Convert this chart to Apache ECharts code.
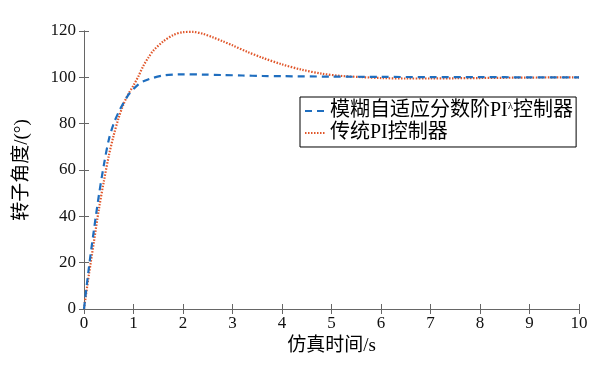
<!DOCTYPE html>
<html><head><meta charset="utf-8">
<script src="https://cdn.jsdelivr.net/npm/echarts@6/dist/echarts.min.js"></script>
<style>html,body{margin:0;padding:0;background:#fff}#c{width:604px;height:367px}</style>
</head><body><div id="c"></div>
<script>
const seriesNames = ['模糊自适应分数阶PIλ控制器', '传统PI控制器'];
const fuzzyTime = [0, 0.1, 0.2, 0.3, 0.4, 0.5, 0.6, 0.7, 0.8, 0.9, 1.0, 1.1, 1.2, 1.4, 1.6, 1.8, 2.0, 2.4, 2.8, 3.2, 3.6, 4.0, 5, 6, 7, 8, 9, 10];
const fuzzyValues = [0, 18, 34, 49, 62, 73, 80, 85, 89, 92.5, 95, 97, 98.3, 99.8, 100.8, 101.2, 101.3, 101.2, 101, 100.8, 100.6, 100.5, 100.3, 100.2, 100.1, 100.1, 100, 100];
const piTime = [0, 0.1, 0.2, 0.3, 0.4, 0.5, 0.6, 0.7, 0.8, 0.9, 1.0, 1.1, 1.2, 1.3, 1.4, 1.6, 1.8, 2.0, 2.2, 2.4, 2.6, 2.8, 3.0, 3.3, 3.6, 4.0, 4.4, 4.8, 5.2, 5.6, 6, 6.5, 7, 7.5, 8, 9, 10];
const piValues = [0, 15, 29, 43, 55, 66, 75, 82.5, 88.5, 93, 96.5, 100.5, 105, 108.5, 111.5, 115.5, 118.2, 119.5, 119.6, 118.8, 117.3, 115.6, 113.8, 111, 108.5, 105.6, 103.3, 101.6, 100.6, 100.1, 99.7, 99.5, 99.5, 99.6, 99.7, 99.9, 100];
const xTicks = [0, 1, 2, 3, 4, 5, 6, 7, 8, 9, 10];
const yTicks = [0, 20, 40, 60, 80, 100, 120];
const xName = '仿真时间/s';
const yName = '转子角度/(°)';

const FONT = '"Liberation Serif", "Noto Sans CJK SC", serif';
const axisColor = '#666';
const chart = echarts.init(document.getElementById('c'));
const zip = (a, b) => a.map((t, i) => [t, b[i]]);
const baseX = {
  type: 'value', min: xTicks[0], max: xTicks[xTicks.length - 1], interval: 1,
  axisLine: { show: true, lineStyle: { color: axisColor, width: 1 } },
  axisTick: { show: true, inside: true, length: 5, lineStyle: { color: axisColor } },
  splitLine: { show: false }
};
const baseY = {
  type: 'value', min: yTicks[0], max: yTicks[yTicks.length - 1], interval: 20,
  axisLine: { show: true, lineStyle: { color: axisColor, width: 1 } },
  axisTick: { show: true, inside: true, length: 5, lineStyle: { color: axisColor } },
  splitLine: { show: false }
};
chart.setOption({
  animation: false,
  backgroundColor: '#fff',
  grid: { left: 84, right: 25, top: 31, bottom: 58 },
  legend: {
    orient: 'vertical', left: 300, top: 97,
    backgroundColor: '#fff', borderColor: '#000', borderWidth: 1,
    padding: [4, 3, 4, 4], itemGap: 2, itemWidth: 20, itemHeight: 14,
    itemStyle: { opacity: 0 },
    data: seriesNames,
    formatter: n => n === seriesNames[0]
      ? '{a|模糊自适应分数阶PI}{s|λ}{a|控制器}'
      : '{a|' + n + '}',
    textStyle: {
      fontFamily: FONT, fontSize: 20, color: '#000',
      rich: {
        a: { fontFamily: FONT, fontSize: 20, color: '#000', lineHeight: 20 },
        s: { fontFamily: FONT, fontSize: 11, color: '#000', verticalAlign: 'top', lineHeight: 20, padding: [0, 0, 7, 0] }
      }
    }
  },
  xAxis: [
    Object.assign({}, baseX, {
      position: 'bottom',
      name: xName, nameLocation: 'middle', nameGap: 27,
      nameTextStyle: { fontFamily: FONT, fontSize: 19, color: '#000' },
      axisLabel: { fontFamily: FONT, fontSize: 17, color: '#111', margin: 6 }
    }),
    Object.assign({}, baseX, { position: 'top', axisLabel: { show: false } })
  ],
  yAxis: [
    Object.assign({}, baseY, {
      position: 'left',
      name: yName, nameLocation: 'middle', nameGap: 52, nameRotate: 90,
      nameTextStyle: { fontFamily: FONT, fontSize: 19, color: '#000' },
      axisLabel: { fontFamily: FONT, fontSize: 17, color: '#111', margin: 8 }
    }),
    Object.assign({}, baseY, { position: 'right', axisLabel: { show: false } })
  ],
  series: [
    {
      name: seriesNames[0], type: 'line', smooth: 0.3, showSymbol: false, symbol: 'none',
      data: zip(fuzzyTime, fuzzyValues),
      lineStyle: { color: '#1f6ebf', width: 2.2, type: [7, 5] },
      itemStyle: { color: '#1f6ebf' }, z: 3
    },
    {
      name: seriesNames[1], type: 'line', smooth: 0.3, showSymbol: false, symbol: 'none',
      data: zip(piTime, piValues),
      lineStyle: { color: '#e0562a', width: 2.2, type: [1.5, 1.5] },
      itemStyle: { color: '#e0562a' }, z: 2
    }
  ]
});
</script></body></html>
